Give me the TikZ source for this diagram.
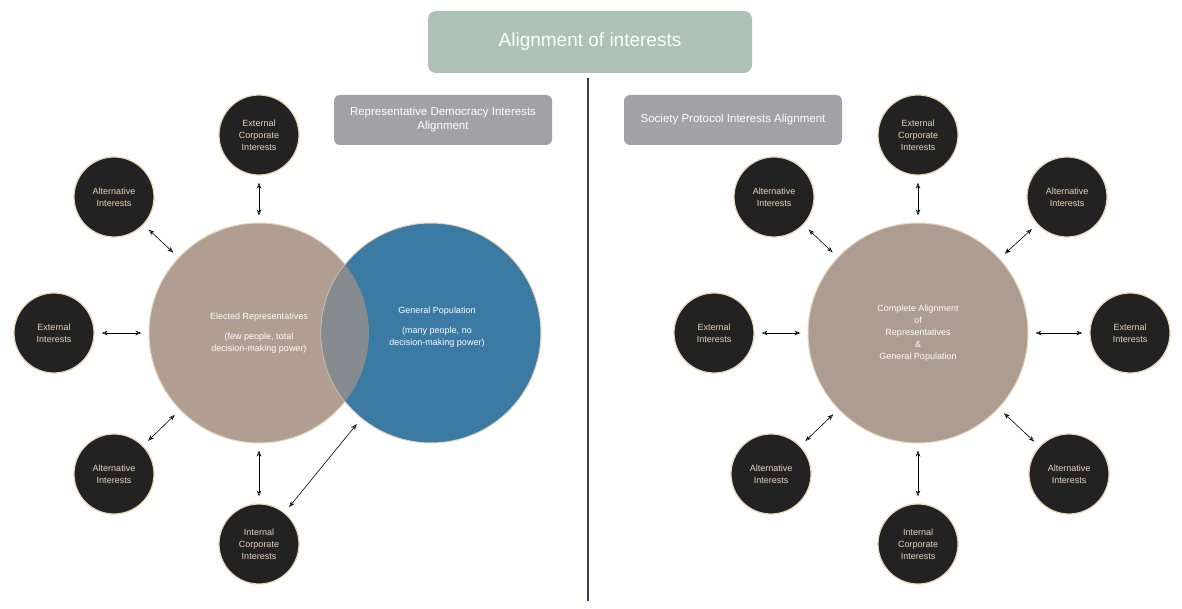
\documentclass[tikz,border=0pt]{standalone}
\usepackage{fontspec}
\setmainfont{Liberation Sans}
\usetikzlibrary{arrows.meta}
\definecolor{sage}{HTML}{ADC1B5}
\definecolor{slate}{HTML}{A2A2A6}
\definecolor{taupe}{HTML}{B09E92}
\definecolor{ocean}{HTML}{2A6F9B}
\definecolor{cream}{HTML}{E9D5B8}
\definecolor{ink}{HTML}{232222}
\definecolor{navy}{HTML}{3A3570}
\tikzset{
  interest/.style={circle, draw=cream, line width=1.2pt, fill=ink, text=cream,
    minimum size=80pt, inner sep=0pt, align=center, font=\fontsize{9}{12}\selectfont},
  big/.style={circle, draw=cream, line width=1pt, minimum size=220pt, inner sep=0pt,
    text=white, align=center, font=\fontsize{9}{12}\selectfont},
  banner/.style={rounded corners=6pt, fill=slate, text=white, align=center,
    minimum width=218pt, minimum height=50pt, font=\fontsize{11.5}{14}\selectfont},
  link/.style={{Stealth[length=6pt,open]}-{Stealth[length=6pt,open]}, semithick, shorten >=7pt, shorten <=7pt},
}
\begin{document}
\begin{tikzpicture}[x=1pt, y=-1pt]
      \useasboundingbox (0,0) rectangle (1182,609);

      \node [rounded corners=8pt, fill=sage, text=white, minimum width=324pt,
        minimum height=62pt, font=\fontsize{19}{22}\selectfont] (title) at (590,42) {Alignment of interests};
      \node [banner] (leftbanner)  at (443,120) {Representative Democracy Interests\\Alignment};
      \node [banner] (rightbanner) at (733,120) {Society Protocol Interests Alignment};

      \coordinate (divtop) at (588,78);
      \coordinate (divbot) at (588,601);
      \draw [navy, line width=1.2pt] (divtop) -- (divbot);

      % left side
      \node [big, fill=taupe] (elected) at (259,333) {};
      \node [big, fill=ocean, fill opacity=0.92, draw=cream] (population) at (431,333) {};
      \begin{scope}
        \clip (259,333) circle (110pt);
        \fill [fill=taupe!80!ocean!70!gray, opacity=0.9] (431,333) circle (110pt);
      \end{scope}
      \node [text=white, align=center, font=\fontsize{9}{12}\selectfont] (electedtext) at (259,333)
        {Elected Representatives\\[8pt](few people, total\\decision-making power)};
      \node [text=white, align=center, font=\fontsize{9}{12}\selectfont] (populationtext) at (437,327)
        {General Population\\[8pt](many people, no\\decision-making power)};

      \node [interest] (lextcorp) at (259,135) {External\\Corporate\\Interests};
      \node [interest] (lalttop)  at (114,197) {Alternative\\Interests};
      \node [interest] (lext)     at (54,333)  {External\\Interests};
      \node [interest] (laltbot)  at (114,474) {Alternative\\Interests};
      \node [interest] (lintcorp) at (259,544) {Internal\\Corporate\\Interests};

      \draw [link] (lextcorp) to (elected);
      \draw [link] (lalttop)  to (elected);
      \draw [link] (lext)     to (elected);
      \draw [link] (laltbot)  to (elected);
      \draw [link] (lintcorp) to (elected);
      \draw [link] (lintcorp) to (population);

      % right side
      \node [big, fill=taupe!92!gray] (complete) at (918,333)
        {Complete Alignment\\of\\Representatives\\\&\\General Population};

      \node [interest] (rextcorp) at (918,135)  {External\\Corporate\\Interests};
      \node [interest] (ralttl)   at (774,197)  {Alternative\\Interests};
      \node [interest] (ralttr)   at (1067,197) {Alternative\\Interests};
      \node [interest] (rextl)    at (714,333)  {External\\Interests};
      \node [interest] (rextr)    at (1130,333) {External\\Interests};
      \node [interest] (raltbl)   at (771,474)  {Alternative\\Interests};
      \node [interest] (raltbr)   at (1069,474) {Alternative\\Interests};
      \node [interest] (rintcorp) at (918,544)  {Internal\\Corporate\\Interests};

      \draw [link] (rextcorp) to (complete);
      \draw [link] (ralttl)   to (complete);
      \draw [link] (ralttr)   to (complete);
      \draw [link] (rextl)    to (complete);
      \draw [link] (rextr)    to (complete);
      \draw [link] (raltbl)   to (complete);
      \draw [link] (raltbr)   to (complete);
      \draw [link] (rintcorp) to (complete);
    \end{tikzpicture}
\end{document}
